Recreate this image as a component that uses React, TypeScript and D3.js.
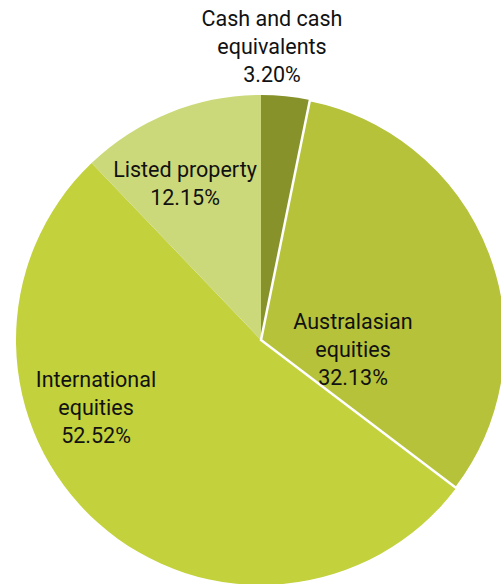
import React from "react";
import * as d3 from "d3";

const categories = ["Cash and cash equivalents", "Australasian equities", "International equities", "Listed property"];
const values = [3.2, 32.13, 52.52, 12.15];
const labelLines = [
  ["Cash and cash", "equivalents", "3.20%"],
  ["Australasian", "equities", "32.13%"],
  ["International", "equities", "52.52%"],
  ["Listed property", "12.15%"],
];
const colors = ["#87922a", "#b5c23a", "#c2d13c", "#ccd97a"];
// label anchor (center of first line) positions
const labelPos: [number, number][] = [
  [272, 20],
  [353, 323],
  [96, 381],
  [185, 171],
];

export default function App() {
  const W = 501, H = 584;
  const cx = 261, cy = 340, r = 245;
  const pie = d3.pie<number>().sort(null).value((d) => d);
  const arcs = pie(values);
  const arc = d3.arc<d3.PieArcDatum<number>>().innerRadius(0).outerRadius(r);
  const lh = 28;
  return (
    <svg width={W} height={H} style={{ position: "absolute", left: 0, top: 0 }}>
      <g transform={`translate(${cx},${cy})`}>
        {arcs.map((a, i) => (
          <path key={i} d={arc(a) || ""} fill={colors[i]} />
        ))}
        {arcs.map((a, i) =>
          i === 1 ? (
            <path key={"s" + i} d={arc(a) || ""} fill="none" stroke="#fff" strokeWidth={2.5} strokeLinejoin="miter" />
          ) : null
        )}
      </g>
      {labelLines.map((lines, i) => (
        <text
          key={i}
          x={labelPos[i][0]}
          y={labelPos[i][1]}
          textAnchor="middle"
          fontFamily="Roboto"
          fontSize={21.5}
          fill="#111"
          dominantBaseline="middle"
        >
          {lines.map((l, j) => (
            <tspan key={j} x={labelPos[i][0]} dy={j === 0 ? 0 : lh}>
              {l}
            </tspan>
          ))}
        </text>
      ))}
    </svg>
  );
}
